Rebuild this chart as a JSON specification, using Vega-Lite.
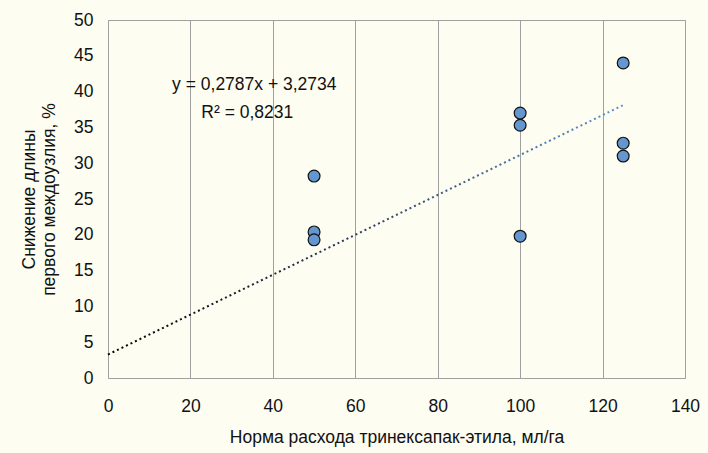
{
  "$schema": "https://vega.github.io/schema/vega-lite/v6.json",
  "autosize": "none",
  "padding": {"left": 108, "top": 20, "right": 23, "bottom": 75},
  "width": 577,
  "height": 358,
  "background": "#fdfdf1",
  "config": {
    "font": "Liberation Sans",
    "view": {"stroke": "#a0a0a0", "strokeWidth": 1},
    "axis": {
      "labelFont": "Liberation Sans",
      "titleFont": "Liberation Sans",
      "labelFontSize": 17.5,
      "titleFontSize": 17.5,
      "labelColor": "#111",
      "titleColor": "#111",
      "titleFontWeight": "normal",
      "labelOverlap": false,
      "ticks": false,
      "domain": false
    }
  },
  "datasets": {
    "points": [
      {"rate": 50, "reduction": 28.2},
      {"rate": 50, "reduction": 20.4},
      {"rate": 50, "reduction": 19.3},
      {"rate": 100, "reduction": 37.0},
      {"rate": 100, "reduction": 35.3},
      {"rate": 100, "reduction": 19.8},
      {"rate": 125, "reduction": 44.0},
      {"rate": 125, "reduction": 32.8},
      {"rate": 125, "reduction": 31.0}
    ],
    "trend": [
      {"rate": 0, "reduction": 3.2734},
      {"rate": 125, "reduction": 38.1109}
    ],
    "labels": [
      {"rate": 35.5, "reduction": 40.9, "text": "y = 0,2787x + 3,2734"},
      {"rate": 33.8, "reduction": 37.0, "text": "R² = 0,8231"}
    ]
  },
  "encoding": {
    "x": {
      "field": "rate", "type": "quantitative",
      "scale": {"domain": [0, 140], "nice": false},
      "axis": {
        "values": [0, 20, 40, 60, 80, 100, 120, 140],
        "grid": true, "gridColor": "#a0a0a0", "gridOpacity": 1,
        "labelPadding": 19,
        "labelOverlap": false,
        "labelFlush": false,
        "labelBound": false,
        "title": "Норма расхода тринексапак-этила, мл/га",
        "titlePadding": 14
      }
    },
    "y": {
      "field": "reduction", "type": "quantitative",
      "scale": {"domain": [0, 50], "nice": false},
      "axis": {
        "values": [0, 5, 10, 15, 20, 25, 30, 35, 40, 45, 50],
        "grid": false,
        "labelOverlap": false,
        "labelSeparation": 0,
        "labelBound": false,
        "labelFlush": false,
        "labelPadding": 15,
        "title": ["Снижение длины", "первого междоузлия, %"],
        "titlePadding": 15,
        "titleLineHeight": 20
      }
    }
  },
  "layer": [
    {
      "data": {"name": "trend"},
      "mark": {
        "type": "line",
        "strokeWidth": 2,
        "strokeDash": [2, 3],
        "color": {
          "gradient": "linear",
          "x1": 0, "x2": 1, "y1": 0, "y2": 0,
          "stops": [
            {"offset": 0, "color": "#000000"},
            {"offset": 0.45, "color": "#2a3a55"},
            {"offset": 1, "color": "#5f94d0"}
          ]
        }
      }
    },
    {
      "data": {"name": "points"},
      "mark": {"type": "point", "filled": true, "size": 140, "fill": "#6497cf", "stroke": "#111", "strokeWidth": 1.2, "opacity": 1}
    },
    {
      "data": {"name": "labels"},
      "mark": {"type": "text", "fontSize": 17.5, "color": "#111", "align": "center", "baseline": "middle"},
      "encoding": {
        "text": {"field": "text"}
      }
    }
  ]
}
